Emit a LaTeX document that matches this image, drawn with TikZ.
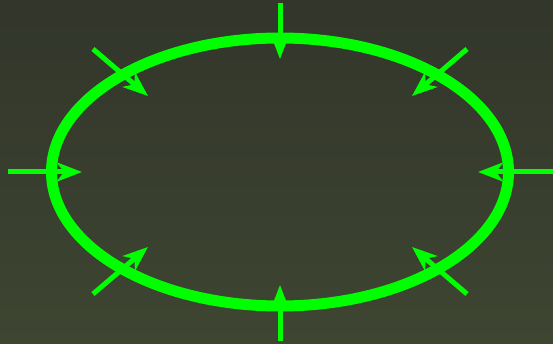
\documentclass[tikz,border=0pt]{standalone}
\usepackage{tikz}
\usetikzlibrary{arrows.meta, calc}

\definecolor{bgtop}{RGB}{50,54,43}
\definecolor{bgbot}{RGB}{62,69,49}
\definecolor{ringgreen}{RGB}{0,255,0}

\begin{document}
\begin{tikzpicture}[
    x=1pt, y=-1pt,
    ring/.style={draw=ringgreen, line width=11pt},
    push/.style={draw=ringgreen, line width=5pt, -{Stealth[length=25pt, width=19pt, inset=7pt]}}
]

    % Background
    \shade[top color=bgtop, bottom color=bgbot] (0,0) rectangle (553,344);
    \useasboundingbox (0,0) rectangle (553,344);

    % Ring
    \coordinate (c) at (280,172);
    \draw[ring] (c) ellipse [x radius=228.5, y radius=134];

    % Arrow ends
    \coordinate (n_from) at (280,3);    \coordinate (n_to) at (280,59);
    \coordinate (s_from) at (280,341);  \coordinate (s_to) at (280,285);
    \coordinate (w_from) at (8,172);    \coordinate (w_to) at (82,172);
    \coordinate (e_from) at (553,172);  \coordinate (e_to) at (478,172);
    \coordinate (nw_from) at (93,49);   \coordinate (nw_to) at (148,96);
    \coordinate (ne_from) at (467,49);  \coordinate (ne_to) at (412,96);
    \coordinate (sw_from) at (93,294);  \coordinate (sw_to) at (148,247);
    \coordinate (se_from) at (467,294); \coordinate (se_to) at (412,247);

    % Arrows
    \foreach \d in {n,s,w,e,nw,ne,sw,se}
        \draw[push] (\d_from) -- (\d_to);

\end{tikzpicture}
\end{document}
